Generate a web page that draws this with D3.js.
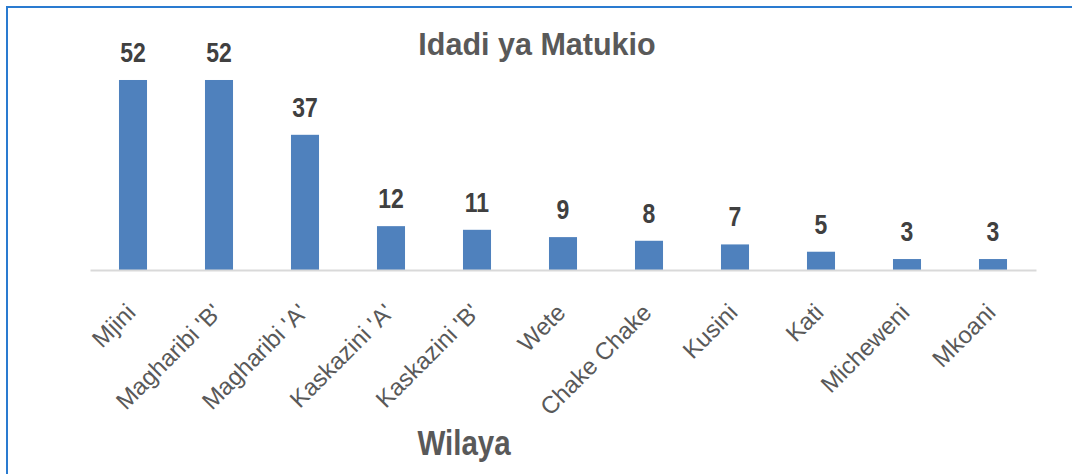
<!DOCTYPE html>
<html>
<head>
<meta charset="utf-8">
<script src="https://cdn.jsdelivr.net/npm/d3@7"></script>
<style>
  body { margin: 0; background: #fff; }
  svg { display: block; }
</style>
</head>
<body>
<svg id="chart"></svg>
<script>
const wilaya = ["Mjini", "Magharibi 'B'", "Magharibi 'A'", "Kaskazini 'A'", "Kaskazini 'B'",
                "Wete", "Chake Chake", "Kusini", "Kati", "Micheweni", "Mkoani"];
const matukio = [52, 52, 37, 12, 11, 9, 8, 7, 5, 3, 3];
const title = "Idadi ya Matukio";
const xTitle = "Wilaya";

const W = 1072, H = 474;
const baseY = 270;
const font = "'Liberation Sans', Arial, sans-serif";

const svg = d3.select("#chart")
    .attr("width", W)
    .attr("height", H);

// blue frame, runs off the right and bottom edge
svg.append("rect")
    .attr("x", 7).attr("y", 7)
    .attr("width", W + 20).attr("height", H + 20)
    .attr("fill", "none")
    .attr("stroke", "#2a7bd0")
    .attr("stroke-width", 2);

const x = d3.scaleBand()
    .domain(wilaya)
    .range([90, 1036])
    .paddingInner(0.674)
    .paddingOuter(0.337);

const y = d3.scaleLinear()
    .domain([0, 60])
    .range([baseY, baseY - 60 * 3.654]);

svg.selectAll(".bar")
    .data(wilaya)
    .enter().append("rect")
    .attr("class", "bar")
    .attr("x", d => x(d))
    .attr("y", (d, i) => y(matukio[i]))
    .attr("width", x.bandwidth())
    .attr("height", (d, i) => baseY - y(matukio[i]))
    .attr("fill", "#4f81bd");

// x axis
const xAxis = svg.append("g")
    .attr("transform", `translate(0,${baseY})`)
    .call(d3.axisBottom(x).tickSize(0).tickSizeOuter(0));
xAxis.select(".domain")
    .attr("stroke", "#d9d9d9")
    .attr("stroke-width", 2);
xAxis.selectAll("text")
    .attr("text-anchor", "end")
    .attr("x", 0).attr("y", 0).attr("dy", 0)
    .attr("transform", "translate(4,44) rotate(-45)")
    .attr("font-family", font)
    .attr("font-size", 24)
    .attr("fill", "#595959");

// value labels (vertically stretched like the original)
svg.selectAll(".label")
    .data(wilaya)
    .enter().append("text")
    .attr("class", "label")
    .attr("transform", (d, i) => `translate(${x(d) + x.bandwidth() / 2},${y(matukio[i]) - 18}) scale(1,1.2)`)
    .attr("text-anchor", "middle")
    .attr("font-family", font)
    .attr("font-size", 23)
    .attr("font-weight", "bold")
    .attr("fill", "#404040")
    .text((d, i) => matukio[i]);

svg.append("text")
    .attr("x", 537)
    .attr("y", 55)
    .attr("text-anchor", "middle")
    .attr("font-family", font)
    .attr("font-size", 30.5)
    .attr("font-weight", "bold")
    .attr("fill", "#595959")
    .text(title);

svg.append("text")
    .attr("transform", "translate(464,455) scale(1,1.2)")
    .attr("text-anchor", "middle")
    .attr("font-family", font)
    .attr("font-size", 29.5)
    .attr("font-weight", "bold")
    .attr("fill", "#595959")
    .text(xTitle);
</script>
</body>
</html>
